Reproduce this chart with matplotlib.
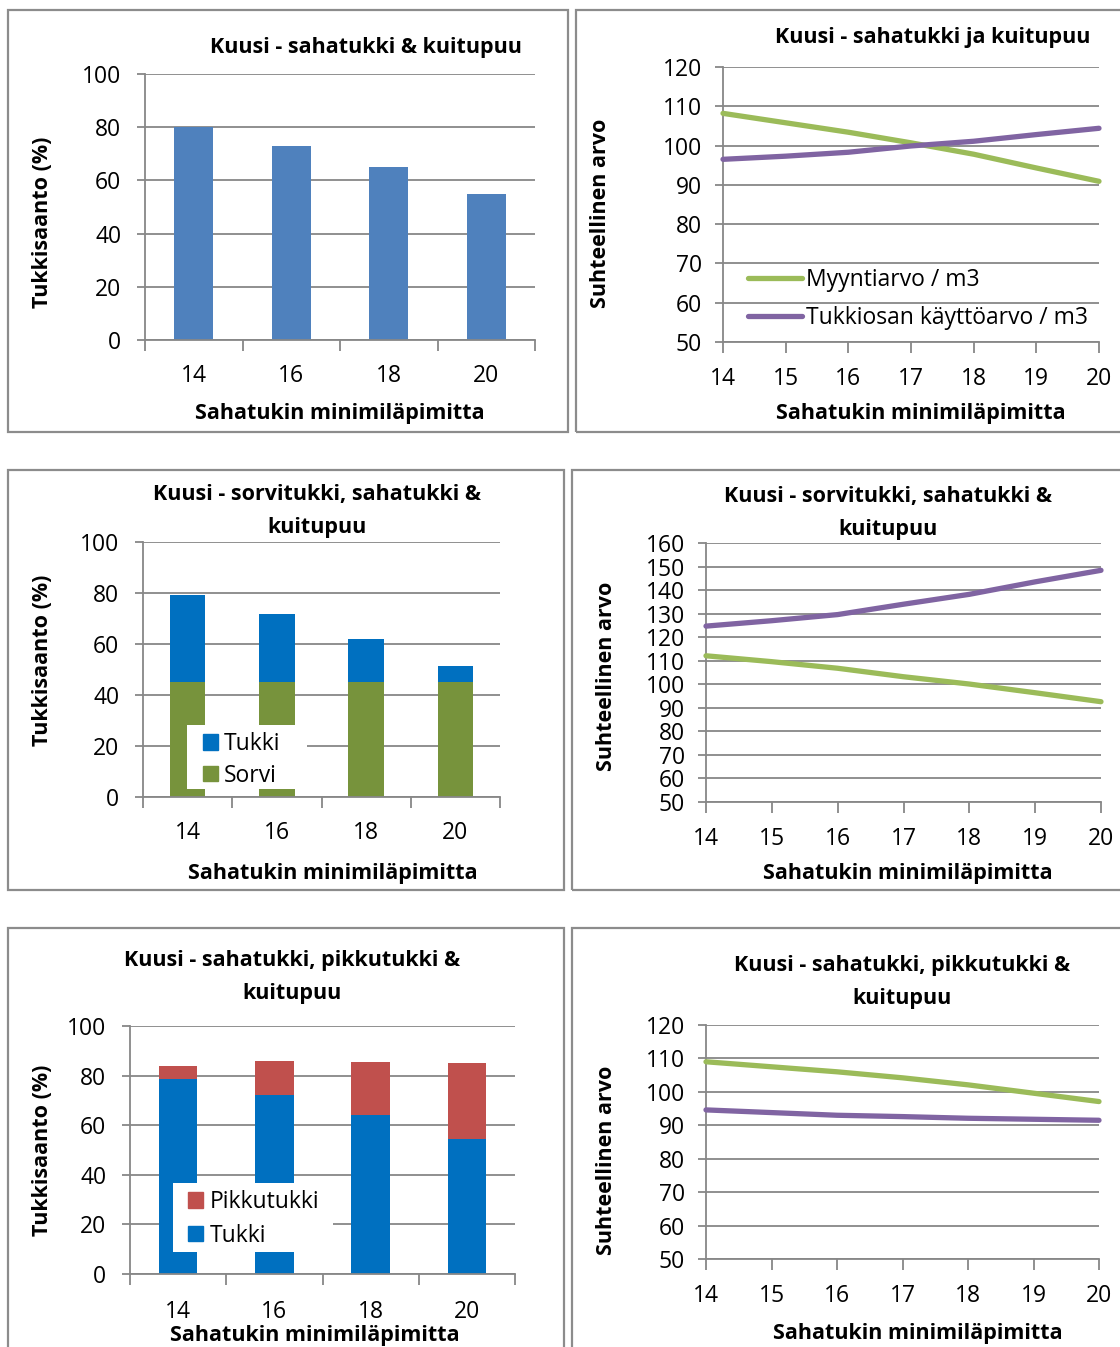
import matplotlib
matplotlib.use("Agg")
import matplotlib.pyplot as plt
from matplotlib.patches import Rectangle, Patch

plt.rcParams['font.family'] = ['Open Sans', 'DejaVu Sans']

W, H = 1120, 1347

# --- data ---
bar_cats = ["14", "16", "18", "20"]
saha_yield = [80, 73, 65, 55]

line_x = [14, 15, 16, 17, 18, 19, 20]
myynti_a = [108.2, 105.8, 103.4, 100.7, 97.8, 94.3, 90.9]
kaytto_a = [96.5, 97.3, 98.3, 99.9, 101.1, 102.8, 104.4]

sorvi_b = [45, 45, 45, 45]
tukki_b = [34.3, 26.7, 16.9, 6.4]

myynti_b = [112.1, 109.6, 106.8, 103.2, 100.1, 96.4, 92.6]
kaytto_b = [124.7, 127.0, 129.6, 134.0, 138.2, 143.5, 148.4]

tukki_c = [78.6, 72.3, 64.1, 54.3]
pikku_c = [5.2, 13.4, 21.3, 30.6]

myynti_c = [109.0, 107.5, 106.0, 104.2, 102.1, 99.6, 97.1]
kaytto_c = [94.6, 93.8, 93.0, 92.6, 92.1, 91.8, 91.5]

GRID = "#878787"
BLUE1 = "#4F81BD"
BLUE2 = "#0070C0"
GREENBAR = "#77933C"
RED = "#C0504D"
GREEN = "#9BBB59"
PURPLE = "#8064A2"

TICK_FS = 16.5
LAB_FS = 15.5

fig = plt.figure(figsize=(W / 100, H / 100), dpi=100)


def fx(x):
    return x / W


def fy(y):
    return 1 - y / H


def box(x0, y0, x1, y1):
    fig.patches.append(Rectangle((fx(x0), fy(y1)), fx(x1 - x0), (y1 - y0) / H,
                                 transform=fig.transFigure, fill=False,
                                 edgecolor="#8c8c8c", linewidth=1.6))


def make_axes(x0, y0, x1, y1):
    ax = fig.add_axes([fx(x0), fy(y1), fx(x1 - x0), (y1 - y0) / H])
    for s in ("top", "right"):
        ax.spines[s].set_visible(False)
    for s in ("left", "bottom"):
        ax.spines[s].set_color(GRID)
        ax.spines[s].set_linewidth(1.3)
    ax.yaxis.grid(True, color=GRID, linewidth=1.3)
    ax.set_axisbelow(True)
    ax.tick_params(axis="both", which="both", colors=GRID, labelcolor="black",
                   labelsize=TICK_FS, direction="out", length=6, width=1.3)
    return ax


def texts(title, title_xy, xlab_xy, ylab_xy):
    fig.text(fx(title_xy[0]), fy(title_xy[1]), title, ha="center", va="center",
             fontsize=LAB_FS, fontweight="bold", linespacing=1.75)
    fig.text(fx(xlab_xy[0]), fy(xlab_xy[1]), "Sahatukin minimiläpimitta",
             ha="center", va="center", fontsize=LAB_FS, fontweight="bold")
    fig.text(fx(ylab_xy[0]), fy(ylab_xy[1]), ylab_xy[2], ha="center",
             va="center", rotation=90, fontsize=LAB_FS, fontweight="bold")


def bar_axis(ax):
    pos = range(len(bar_cats))
    ax.set_xlim(-0.5, len(bar_cats) - 0.5)
    ax.set_ylim(0, 100)
    ax.set_yticks(range(0, 101, 20))
    ax.set_xticks(list(pos))
    ax.set_xticklabels(bar_cats)
    ax.set_xticks([i - 0.5 for i in range(len(bar_cats) + 1)], minor=True)
    ax.tick_params(axis="x", which="major", length=0, pad=17)
    ax.tick_params(axis="x", which="minor", length=8)
    ax.tick_params(axis="y", pad=11)
    return list(pos)


def line_axis(ax, lo, hi):
    ax.set_xlim(14, 20)
    ax.set_ylim(lo, hi)
    ax.set_xticks(line_x)
    ax.set_yticks(range(lo, hi + 1, 10))
    ax.tick_params(axis="x", length=8, pad=10)
    ax.tick_params(axis="y", pad=9)


def draw_lines(ax, myynti, kaytto):
    ax.plot(line_x, myynti, color=GREEN, lw=3.8, solid_capstyle="round",
            clip_on=False, label="Myyntiarvo / m3", zorder=3)
    ax.plot(line_x, kaytto, color=PURPLE, lw=3.8, solid_capstyle="round",
            clip_on=False, label="Tukkiosan käyttöarvo / m3", zorder=3)


def bar_legend(ax, handles, bg, anchor, spacing, textpad):
    # white background patch covering bars and gridlines
    ax.add_patch(Rectangle((fx(bg[0]), fy(bg[3])), fx(bg[2] - bg[0]),
                           (bg[3] - bg[1]) / H, transform=fig.transFigure,
                           facecolor="white", edgecolor="none", zorder=4,
                           clip_on=False))
    leg = ax.legend(handles=handles, loc="upper left",
                    bbox_to_anchor=(fx(anchor[0]), fy(anchor[1])),
                    bbox_transform=fig.transFigure, fontsize=TICK_FS,
                    frameon=False, handlelength=0.65, handleheight=0.65,
                    handletextpad=textpad, labelspacing=spacing,
                    borderpad=0, borderaxespad=0)
    leg.set_zorder(5)


# panel 1: saw log yield
box(8, 10, 568, 432)
ax1 = make_axes(145, 74, 535, 340)
pos = bar_axis(ax1)
ax1.bar(pos, saha_yield, width=0.4, color=BLUE1, zorder=2)
texts("Kuusi - sahatukki & kuitupuu", (366, 47), (340, 414),
      (43, 222, "Tukkisaanto (%)"))

# panel 2: relative value
box(576, 10, 1130, 432)
ax2 = make_axes(723, 67, 1099, 342)
line_axis(ax2, 50, 120)
draw_lines(ax2, myynti_a, kaytto_a)
ax2.legend(loc="upper left", bbox_to_anchor=(fx(748), fy(268)),
           bbox_transform=fig.transFigure, frameon=False, fontsize=TICK_FS,
           handlelength=2.35, handletextpad=0.2, labelspacing=0.6,
           borderpad=0, borderaxespad=0)
texts("Kuusi - sahatukki ja kuitupuu", (933, 38), (921, 414),
      (600, 213, "Suhteellinen arvo"))

# panel 3: veneer + saw log
box(8, 470, 564, 890)
ax3 = make_axes(143, 542, 500, 797)
pos = bar_axis(ax3)
ax3.bar(pos, sorvi_b, width=0.4, color=GREENBAR, zorder=2)
ax3.bar(pos, tukki_b, width=0.4, bottom=sorvi_b, color=BLUE2, zorder=2)
bar_legend(ax3, [Patch(color=BLUE2, label="Tukki"),
                 Patch(color=GREENBAR, label="Sorvi")],
           (187, 725, 307, 789), (203, 732), 0.34, 0.25)
texts("Kuusi - sorvitukki, sahatukki &\nkuitupuu", (317, 511), (333, 873),
      (43, 660, "Tukkisaanto (%)"))

# panel 4
box(572, 470, 1130, 890)
ax4 = make_axes(706, 543, 1101, 802)
line_axis(ax4, 50, 160)
draw_lines(ax4, myynti_b, kaytto_b)
texts("Kuusi - sorvitukki, sahatukki &\nkuitupuu", (888, 513), (908, 873),
      (607, 676, "Suhteellinen arvo"))

# panel 5: saw log + small log
box(8, 928, 564, 1360)
ax5 = make_axes(130, 1026, 515, 1274)
pos = bar_axis(ax5)
ax5.tick_params(axis="x", which="major", pad=19)
ax5.bar(pos, tukki_c, width=0.4, color=BLUE2, zorder=2)
ax5.bar(pos, pikku_c, width=0.4, bottom=tukki_c, color=RED, zorder=2)
bar_legend(ax5, [Patch(color=RED, label="Pikkutukki"),
                 Patch(color=BLUE2, label="Tukki")],
           (173, 1183, 333, 1252), (188, 1190), 0.42, 0.3)
texts("Kuusi - sahatukki, pikkutukki &\nkuitupuu", (292, 977), (315, 1335),
      (43, 1150, "Tukkisaanto (%)"))

# panel 6
box(572, 928, 1130, 1360)
ax6 = make_axes(706, 1025, 1099, 1259)
line_axis(ax6, 50, 120)
draw_lines(ax6, myynti_c, kaytto_c)
texts("Kuusi - sahatukki, pikkutukki &\nkuitupuu", (902, 982), (918, 1334),
      (607, 1160, "Suhteellinen arvo"))

fig.savefig("out.png", dpi=100)
